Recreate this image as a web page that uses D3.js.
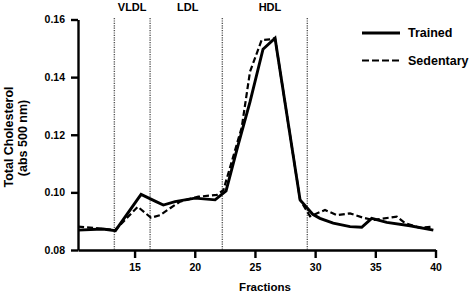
<!DOCTYPE html>
<html>
<head>
<meta charset="utf-8">
<script src="https://cdn.jsdelivr.net/npm/d3@7"></script>
<style>
  body { margin: 0; background: #fff; }
  text { font-family: "Liberation Sans", Arial, sans-serif; font-weight: bold; fill: #000; }
</style>
</head>
<body>
<div id="chart"></div>
<script>
// fraction number / absorbance
var trainedX = [10.31, 12.36, 13.41, 15.54, 16.79, 17.39, 18.36, 20.02, 21.69, 22.6, 23.6, 24.59, 25.67, 26.67, 28.75, 29.8, 30.4, 31.5, 32.9, 33.87, 34.7, 35.95, 37.88, 39.82];
var trainedY = [0.0869, 0.0873, 0.0867, 0.0993, 0.0968, 0.0956, 0.0968, 0.0980, 0.0974, 0.1005, 0.1164, 0.1314, 0.1497, 0.1535, 0.0974, 0.0924, 0.0910, 0.0893, 0.0881, 0.0879, 0.0910, 0.0896, 0.0884, 0.0869];

var sedentaryX = [10.31, 11.8, 13.38, 15.27, 16.37, 17.12, 17.95, 18.78, 20.3, 21.83, 22.38, 23.9, 24.59, 25.56, 26.25, 26.67, 28.75, 29.58, 30.82, 31.79, 32.9, 34.0, 34.83, 36.78, 37.47, 38.7, 39.82];
var sedentaryY = [0.0881, 0.0876, 0.0869, 0.0950, 0.0912, 0.0921, 0.0945, 0.0968, 0.0985, 0.0991, 0.1008, 0.1225, 0.1419, 0.1529, 0.1531, 0.1535, 0.0974, 0.0917, 0.0939, 0.0921, 0.0927, 0.0912, 0.0904, 0.0916, 0.0893, 0.0877, 0.0881];

var xTicks = [15, 20, 25, 30, 35, 40];
var yTicks = [0.08, 0.10, 0.12, 0.14, 0.16];

var boundaries = [13.32, 16.29, 22.29, 29.35];
var regionNames = ['VLDL', 'LDL', 'HDL'];
var regionCenters = [14.8, 19.42, 26.25];

var seriesNames = ['Trained', 'Sedentary'];

var width = 472, height = 293;

var svg = d3.select('#chart').append('svg')
  .attr('width', width)
  .attr('height', height);

var x = d3.scaleLinear().domain([10.3, 40]).range([78, 435.5]);
var y = d3.scaleLinear().domain([0.08, 0.16]).range([250, 19.5]);

// region boundaries
svg.selectAll('.bound')
  .data(boundaries).enter()
  .append('line')
  .attr('class', 'bound')
  .attr('x1', function(d) { return x(d); })
  .attr('x2', function(d) { return x(d); })
  .attr('y1', 18)
  .attr('y2', 250)
  .attr('stroke', '#555')
  .attr('stroke-width', 1.4)
  .attr('stroke-dasharray', '1.2,1.2');

svg.selectAll('.region')
  .data(regionNames).enter()
  .append('text')
  .attr('class', 'region')
  .attr('x', function(d, i) { return x(regionCenters[i]); })
  .attr('y', 11)
  .attr('text-anchor', 'middle')
  .style('font-size', '11px')
  .text(function(d) { return d; });

var line = d3.line()
  .x(function(d) { return x(d[0]); })
  .y(function(d) { return y(d[1]); });

var trained = d3.zip(trainedX, trainedY);
var sedentary = d3.zip(sedentaryX, sedentaryY);

svg.append('path')
  .datum(sedentary)
  .attr('d', line)
  .attr('fill', 'none')
  .attr('stroke', '#000')
  .attr('stroke-width', 2.2)
  .attr('stroke-dasharray', '6,3');

svg.append('path')
  .datum(trained)
  .attr('d', line)
  .attr('fill', 'none')
  .attr('stroke', '#000')
  .attr('stroke-width', 2.9);

// axes
var xAxis = svg.append('g')
  .attr('transform', 'translate(0,250)')
  .call(d3.axisBottom(x).tickValues(xTicks).tickSize(8).tickPadding(6).tickSizeOuter(0));
var yAxis = svg.append('g')
  .attr('transform', 'translate(78,0)')
  .call(d3.axisLeft(y).tickValues(yTicks).tickFormat(d3.format('.2f')).tickSize(7).tickPadding(6).tickSizeOuter(0));

[xAxis, yAxis].forEach(function(a) {
  a.select('.domain').attr('stroke', '#000').attr('stroke-width', 2.4);
  a.selectAll('.tick line').attr('stroke', '#000').attr('stroke-width', 2.4);
  a.selectAll('.tick text').style('font-size', '10.5px').style('font-family', '"Liberation Sans", Arial, sans-serif').style('font-weight', 'bold').attr('fill', '#000');
});

// axis titles
svg.append('text')
  .attr('x', 265)
  .attr('y', 291)
  .attr('text-anchor', 'middle')
  .style('font-size', '11.5px')
  .text('Fractions');

svg.append('text')
  .attr('transform', 'translate(13,137) rotate(-90)')
  .attr('text-anchor', 'middle')
  .style('font-size', '12.5px')
  .text('Total Cholesterol');

svg.append('text')
  .attr('transform', 'translate(27,138) rotate(-90)')
  .attr('text-anchor', 'middle')
  .style('font-size', '12.5px')
  .text('(abs 500 nm)');

// legend
var legend = svg.selectAll('.legend')
  .data(seriesNames).enter()
  .append('g')
  .attr('class', 'legend')
  .attr('transform', function(d, i) { return 'translate(362,' + (33 + i * 27.5) + ')'; });

legend.append('line')
  .attr('x1', 0).attr('x2', 38)
  .attr('stroke', '#000')
  .attr('stroke-width', function(d, i) { return i === 0 ? 3 : 2.2; })
  .attr('stroke-dasharray', function(d, i) { return i === 0 ? null : '7,3'; });

legend.append('text')
  .attr('x', 46)
  .attr('y', 4)
  .style('font-size', '12.5px')
  .text(function(d) { return d; });
</script>
</body>
</html>
